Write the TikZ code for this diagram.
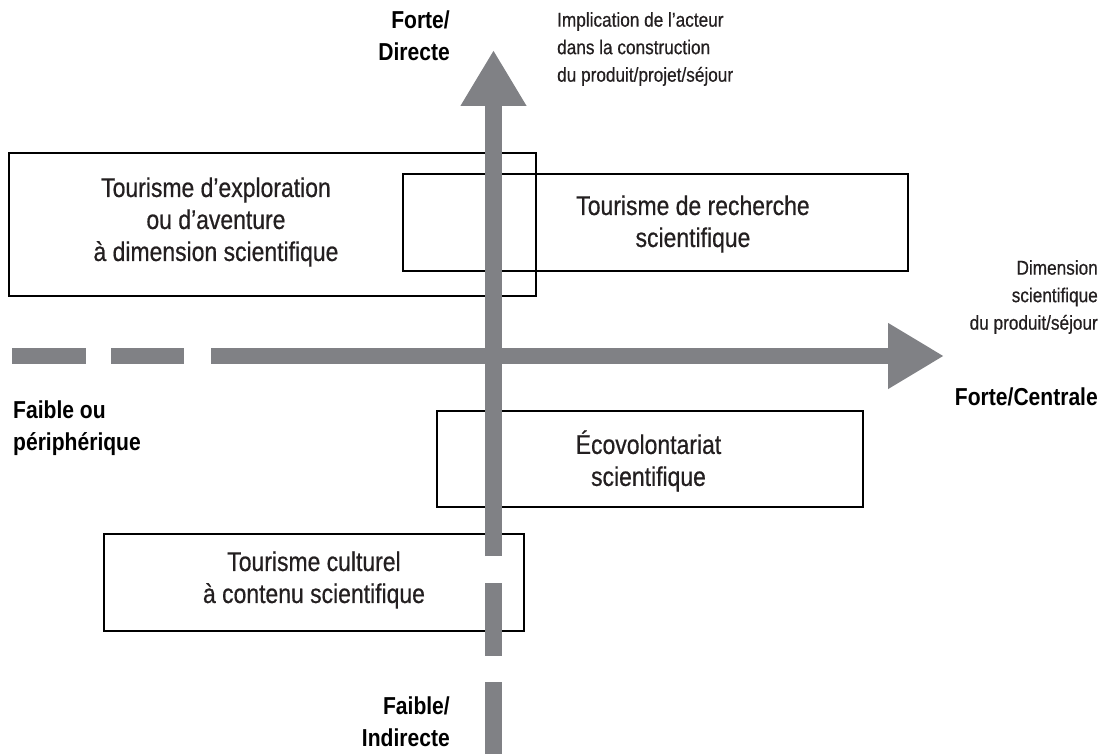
\documentclass[tikz,border=0pt]{standalone}
\usepackage{fontspec}
\setmainfont{Liberation Sans}[FakeStretch=0.85,FakeBold=0.6]
\newfontfamily\lblfont{Liberation Sans}[FakeStretch=0.86]
\newfontfamily\notefont{Liberation Sans}[FakeStretch=0.86,FakeBold=0.5]
\usetikzlibrary{arrows.meta}
\definecolor{axisgray}{RGB}{128,129,133}
\definecolor{txtgray}{RGB}{35,31,32}
\begin{document}
\begin{tikzpicture}[x=1pt,y=-1pt,
  box/.style={draw=black, line width=1.3pt, inner sep=0pt},
  boxtext/.style={align=center, font=\fontsize{27}{32}\selectfont, text=txtgray, inner sep=0pt},
  lbl/.style={font=\lblfont\bfseries\fontsize{24.5}{32}\selectfont, inner sep=0pt},
  note/.style={font=\notefont\fontsize{20}{27.5}\selectfont, text=txtgray, inner sep=0pt},
  axis/.style={draw=axisgray, line width=16.5pt, line cap=butt},
  axistip/.style={-{Triangle[length=56pt,width=62pt]}}
]
\useasboundingbox (0,0) rectangle (1109,754);

% boxes
\node[box, minimum width=527pt, minimum height=143pt] (bexpl) at (272.5,224.5) {};
\node[box, minimum width=505pt, minimum height=97pt] (brech) at (655.5,222.5) {};
\node[box, minimum width=426pt, minimum height=96pt] (beco) at (650,459) {};
\node[box, minimum width=420pt, minimum height=97pt] (bcult) at (314,582.5) {};

% axes coordinates
\coordinate (hd1a) at (12,356);
\coordinate (hd1b) at (86,356);
\coordinate (hd2a) at (111,356);
\coordinate (hd2b) at (184,356);
\coordinate (hsa) at (211,356);
\coordinate (htip) at (944,356);
\coordinate (vsa) at (493.5,556);
\coordinate (vtip) at (493.5,50);
\coordinate (vd1a) at (493.5,583);
\coordinate (vd1b) at (493.5,656);
\coordinate (vd2a) at (493.5,682);
\coordinate (vd2b) at (493.5,754);

\draw[axis] (hd1a) -- (hd1b);
\draw[axis] (hd2a) -- (hd2b);
\draw[axis, axistip] (hsa) -- (htip);
\draw[axis] (vd1a) -- (vd1b);
\draw[axis] (vd2a) -- (vd2b);
\draw[axis, axistip] (vsa) -- (vtip);

% box texts
\node[boxtext] (texpl) at (216,222) {Tourisme d’exploration\\ou d’aventure\\à dimension scientifique};
\node[boxtext] (trech) at (693,224) {Tourisme de recherche\\scientifique};
\node[boxtext] (teco) at (648.5,461) {Écovolontariat\\scientifique};
\node[boxtext] (tcult) at (314,580) {Tourisme culturel\\à contenu scientifique};

% axis labels
\node[lbl, anchor=east, align=right] (fdir) at (450,36) {Forte/\\Directe};
\node[lbl, anchor=east, align=right] (find) at (450,722) {Faible/\\Indirecte};
\node[lbl, anchor=west, align=left] (fper) at (13,428) {Faible ou\\périphérique};
\node[lbl, anchor=east] (fcen) at (1098,397) {Forte/Centrale};
\node[note, anchor=west, align=left] (nimp) at (557,49) {Implication de l’acteur\\dans la construction\\du produit/projet/séjour};
\node[note, anchor=east, align=right] (ndim) at (1098,297) {Dimension\\scientifique\\du produit/séjour};
\end{tikzpicture}
\end{document}
